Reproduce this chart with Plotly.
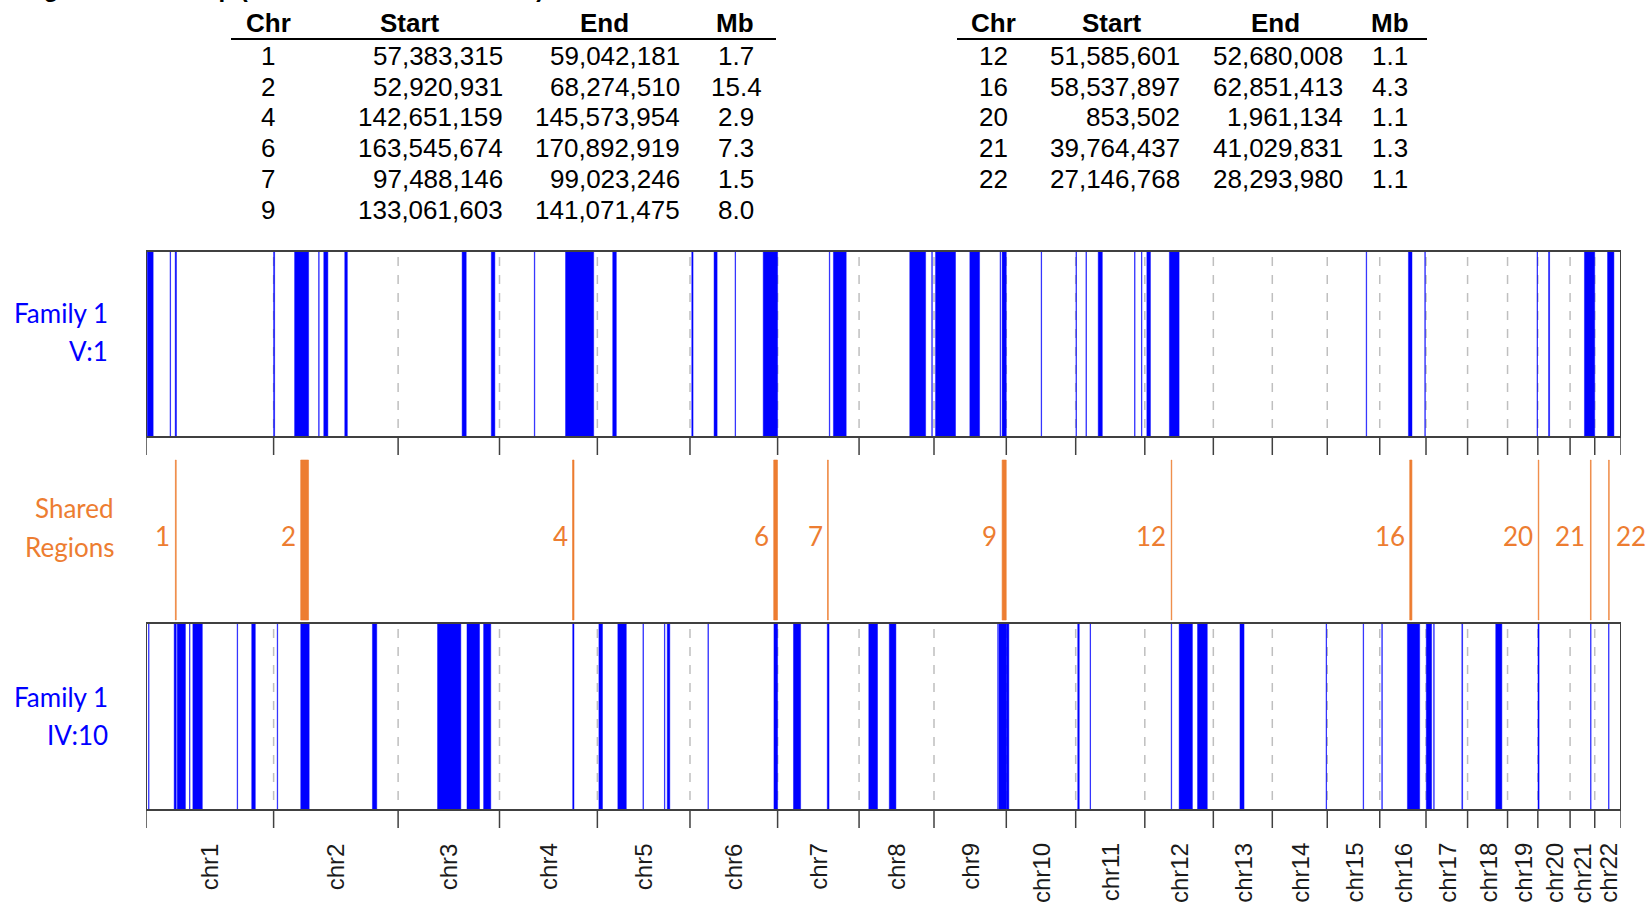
import plotly.graph_objects as go
import numpy as np

# ---------------- data ----------------
chrom_names = [f"chr{i}" for i in range(1, 23)]
chrom_len_mb = [249.25, 243.20, 198.02, 191.15, 180.92, 171.12, 159.14, 146.36,
                141.21, 135.53, 135.01, 133.85, 115.17, 107.35, 102.53, 90.35,
                81.20, 78.08, 59.13, 63.03, 48.13, 51.30]

title_text = "Regions of Overlap (Both Affected Individuals)"
table_headers = ["Chr", "Start", "End", "Mb"]

shared_chr = [1, 2, 4, 6, 7, 9, 12, 16, 20, 21, 22]
shared_start = [57383315, 52920931, 142651159, 163545674, 97488146, 133061603,
                51585601, 58537897, 853502, 39764437, 27146768]
shared_end = [59042181, 68274510, 145573954, 170892919, 99023246, 141071475,
              52680008, 62851413, 1961134, 41029831, 28293980]
shared_mb = ["1.7", "15.4", "2.9", "7.3", "1.5", "8.0", "1.1", "4.3", "1.1", "1.3", "1.1"]

# ROH segments, individual V:1 (chromosome, start Mb, end Mb)
v1_chr = [1, 1, 1, 2, 2, 2, 2, 2, 3, 3, 4, 4, 5, 6, 6, 6, 6, 7, 7, 8, 8, 9, 9, 9, 9,
          10, 11, 11, 11, 11, 11, 12, 12, 15, 16, 16, 19, 20, 21, 22]
v1_start = [2.5, 47, 57, 0, 41, 88, 98, 139, 125, 182, 68, 129, 30, 3.5, 47, 88, 143, 101, 109, 99, 142,
            3, 70, 129, 133, 68, 0.5, 20, 44, 115, 128.5, 4, 48, 76, 56, 88, 57.5, 21, 28, 25]
v1_end = [14, 48, 59.5, 2, 68.4, 89, 106, 144, 133, 189, 69, 184, 37, 6, 53, 89, 171.1, 102, 134, 130, 143,
          42, 89, 130, 141.2, 69, 1.5, 21, 52, 116, 129.5, 11, 67, 77, 63, 89, 58.5, 23, 48.1, 37.5]

# ROH segments, individual IV:10
iv10_chr = [1, 1, 1, 1, 1, 1, 1, 2, 2, 2, 3, 3, 3, 4, 5, 5, 5, 5, 5, 6, 6, 7, 7, 8, 8,
            9, 9, 10, 11, 11, 12, 12, 12, 13, 14, 15, 16, 16, 17, 17, 17, 18, 20, 21, 22]
iv10_start = [5, 55, 61, 85, 91.5, 178, 206.5, 7, 53, 193, 77, 134.5, 167, 143, 3, 40, 89, 131, 136.5,
              35, 164, 31, 97, 19, 59, 124.5, 127, 0.2, 4, 28, 51.5, 67, 103, 52, 105, 70, 4, 54,
              0.5, 15, 70, 55, 0.3, 40, 27]
iv10_end = [6, 59, 77, 86, 110, 179, 213.5, 8, 69.5, 201.5, 122.5, 159, 181, 145.5, 10, 56.5, 90, 132, 141.5,
            36, 171.1, 45, 100.5, 36, 72, 125.5, 141.2, 5, 7, 29, 52.5, 93, 122, 60, 106, 71, 5, 78,
            11, 16, 71.5, 67, 2.5, 41, 28]

# ---------------- geometry ----------------
W, H = 1648, 910
ML, MR = 146, 27
offsets = np.concatenate([[0], np.cumsum(chrom_len_mb)])
total = offsets[-1]


def gpos(c, mb):
    return offsets[c - 1] + mb


def px(xp):
    return (xp - ML) / (W - ML - MR)


BLUE = "#0000FF"
ORANGE = "#ED7D31"
BORDER = "#404040"

panels = [(251, 437), (623, 810)]
shapes = []
annotations = []

# dashed chromosome boundary lines
for (y0, y1) in panels:
    for b in offsets[1:-1]:
        shapes.append(dict(type="line", xref="x", yref="y", x0=b, x1=b, y0=y0 + 6, y1=y1,
                           line=dict(color="#BFBFBF", width=1.5, dash="dash")))

# ROH segments
for (chrs, starts, ends), (y0, y1) in zip([(v1_chr, v1_start, v1_end), (iv10_chr, iv10_start, iv10_end)], panels):
    for c, s, e in zip(chrs, starts, ends):
        shapes.append(dict(type="rect", xref="x", yref="y", x0=gpos(c, s), x1=gpos(c, e),
                           y0=y0 + 1, y1=y1 - 1, fillcolor=BLUE,
                           line=dict(color="rgba(0,0,255,0.45)", width=1)))

# panel borders and boundary ticks
for (y0, y1) in panels:
    shapes.append(dict(type="rect", xref="x", yref="y", x0=0, x1=total, y0=y0, y1=y1,
                       line=dict(color=BORDER, width=2), fillcolor="rgba(0,0,0,0)"))
    for b in offsets:
        shapes.append(dict(type="line", xref="x", yref="y", x0=b, x1=b, y0=y1, y1=y1 + 18,
                           line=dict(color=BORDER, width=1.5)))

# shared regions
for i, (c, s, e) in enumerate(zip(shared_chr, shared_start, shared_end)):
    x0 = gpos(c, s / 1e6)
    x1 = gpos(c, e / 1e6)
    shapes.append(dict(type="rect", xref="x", yref="y", x0=x0, x1=x1, y0=460, y1=620,
                       fillcolor=ORANGE, line=dict(color="rgba(237,125,49,0.6)", width=1)))
    last = i == len(shared_chr) - 1
    annotations.append(dict(xref="x", yref="y", x=x1 if last else x0, y=536, text=str(c),
                            showarrow=False, xanchor="left" if last else "right", yanchor="middle",
                            xshift=5 if last else -3,
                            font=dict(family="Lato, Open Sans, sans-serif", size=26, color=ORANGE)))

# chromosome labels
for i, name in enumerate(chrom_names):
    cx = (offsets[i] + offsets[i + 1]) / 2
    annotations.append(dict(xref="x", yref="y", x=cx, y=841, text=name, textangle=-90,
                            showarrow=False, xanchor="center", yanchor="top",
                            font=dict(family="Liberation Sans, Arial, sans-serif", size=24, color="#1a1a1a")))

# row labels
lab_font = "Lato, Open Sans, sans-serif"
for text, y, col, xr in [("Family 1", 313, BLUE, 110), ("V:1", 351, BLUE, 110),
                         ("Shared", 508, ORANGE, 116), ("Regions", 547, ORANGE, 116),
                         ("Family 1", 697, BLUE, 110), ("IV:10", 735, BLUE, 110)]:
    annotations.append(dict(xref="paper", yref="y", x=px(xr), y=y, text=text, showarrow=False,
                            xanchor="right", yanchor="middle",
                            font=dict(family=lab_font, size=26, color=col)))

# cut-off title at the top edge (only its descenders show, as in the reference)
tfont = "Liberation Sans, Arial, sans-serif"
annotations.append(dict(xref="paper", yref="y", x=px(11), y=4, text=f"<b>{title_text}</b>",
                        showarrow=False, xanchor="left", yanchor="bottom",
                        font=dict(family=tfont, size=24, color="black")))

# tables
tables = [
    dict(rows=range(0, 6), chr_x=268, start_r=505, end_r=682, mb_x=736,
         hdr_x=[268, 410, 604, 735], rule=(231, 776)),
    dict(rows=range(6, 11), chr_x=993, start_r=1182, end_r=1345, mb_x=1390,
         hdr_x=[993, 1112, 1275, 1390], rule=(957, 1427)),
]
for t in tables:
    for text, xc in zip(table_headers, t["hdr_x"]):
        annotations.append(dict(xref="paper", yref="y", x=px(xc), y=23, text=f"<b>{text}</b>",
                                showarrow=False, xanchor="center", yanchor="middle",
                                font=dict(family=tfont, size=26, color="black")))
    shapes.append(dict(type="line", xref="paper", yref="y", x0=px(t["rule"][0]), x1=px(t["rule"][1]),
                       y0=39, y1=39, line=dict(color="black", width=2)))
    for k, i in enumerate(t["rows"]):
        y = 56 + k * 30.7
        cells = [(str(shared_chr[i]), t["chr_x"], "center"),
                 (f"{shared_start[i]:,}", t["start_r"], "right"),
                 (f"{shared_end[i]:,}", t["end_r"], "right"),
                 (shared_mb[i], t["mb_x"], "center")]
        for text, xx, anc in cells:
            annotations.append(dict(xref="paper", yref="y", x=px(xx), y=y, text=text, showarrow=False,
                                    xanchor=anc, yanchor="middle",
                                    font=dict(family=tfont, size=26, color="black")))

fig = go.Figure()
fig.update_layout(
    width=W, height=H,
    margin=dict(l=ML, r=MR, t=0, b=0),
    paper_bgcolor="white", plot_bgcolor="white",
    xaxis=dict(range=[0, total], visible=False, fixedrange=True),
    yaxis=dict(range=[H, 0], visible=False, fixedrange=True),
    shapes=shapes, annotations=annotations, showlegend=False,
)
fig.write_html("out.html", config={"displayModeBar": False},
               post_script="document.body.style.margin='0px';document.body.style.overflow='hidden';")
